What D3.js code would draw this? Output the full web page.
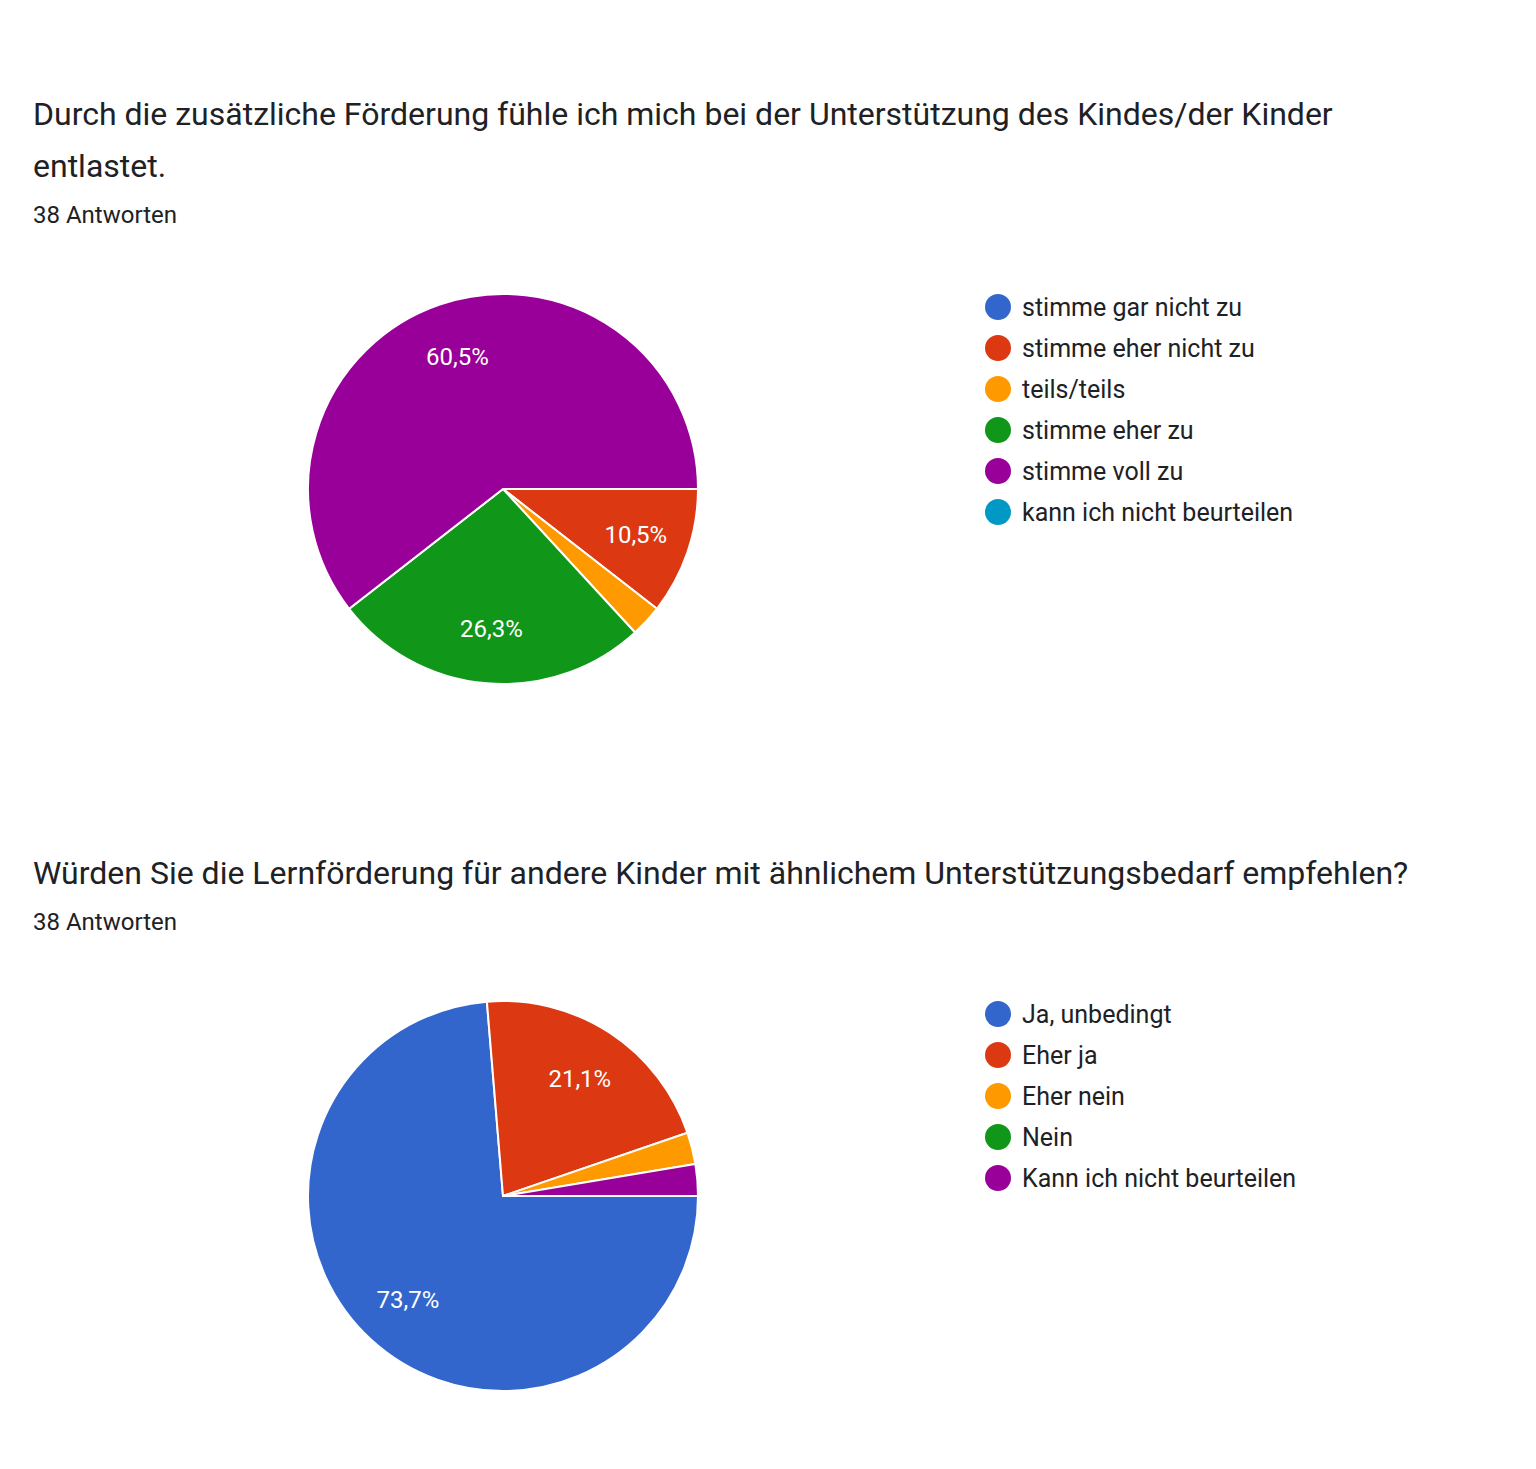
<!DOCTYPE html>
<html><head><meta charset="utf-8">
<script src="https://cdn.jsdelivr.net/npm/d3@7"></script>
<style>body{margin:0;background:#fff}text{font-family:Roboto,"Noto Sans",sans-serif}</style>
</head><body><svg id="c" width="1536" height="1469"></svg>
<script>
const colors = ["#3366cc","#dc3912","#ff9900","#109618","#990099","#0099c6"];
const title1 = ["Durch die zusätzliche Förderung fühle ich mich bei der Unterstützung des Kindes/der Kinder","entlastet."];
const cats1 = ["stimme gar nicht zu","stimme eher nicht zu","teils/teils","stimme eher zu","stimme voll zu","kann ich nicht beurteilen"];
const vals1 = [0,4,1,10,23,0];
const title2 = ["Würden Sie die Lernförderung für andere Kinder mit ähnlichem Unterstützungsbedarf empfehlen?"];
const cats2 = ["Ja, unbedingt","Eher ja","Eher nein","Nein","Kann ich nicht beurteilen"];
const vals2 = [28,8,1,0,1];
const countLabel = "38 Antworten";

const svg = d3.select("#c");
function chart(titles, cats, vals, top, cy){
  titles.forEach((t,i)=>svg.append("text").attr("x",33).attr("y",top+i*52).attr("font-size",32).attr("fill","#202124").text(t));
  svg.append("text").attr("x",33).attr("y",top+(titles.length-1)*52+46).attr("font-size",24).attr("fill","#202124").text(countLabel);
  const total = d3.sum(vals), r = 195;
  const pie = d3.pie().sort(null).startAngle(Math.PI/2).endAngle(Math.PI/2+2*Math.PI);
  const arcs = pie(vals.map((v,i)=>({v,i}))).filter(d=>d.data.v>0);
  pie.value(d=>d.v);
  const arcsD = pie(vals.map((v,i)=>({v,i}))).filter(d=>d.data.v>0);
  const g = svg.append("g").attr("transform",`translate(503,${cy})`);
  const arc = d3.arc().innerRadius(0).outerRadius(r);
  g.selectAll("path").data(arcsD).join("path").attr("d",arc).attr("fill",d=>colors[d.data.i]).attr("stroke","#fff").attr("stroke-width",2);
  const la = d3.arc().innerRadius(r*0.72).outerRadius(r*0.72);
  g.selectAll("text").data(arcsD.filter(d=>d.data.v/total>0.05)).join("text")
    .attr("transform",d=>`translate(${la.centroid(d)})`).attr("text-anchor","middle").attr("dy","0.35em")
    .attr("font-size",24).attr("fill","#fff")
    .text(d=>(d.data.v/total*100).toFixed(1).replace(".",",")+"%");
  const ly = cy-182;
  cats.forEach((c,i)=>{
    svg.append("circle").attr("cx",998).attr("cy",ly+i*41).attr("r",13).attr("fill",colors[i]);
    svg.append("text").attr("x",1022).attr("y",ly+i*41).attr("dy","0.35em").attr("font-size",25).attr("fill","#202124").text(c);
  });
}
chart(title1,cats1,vals1,125,489);
chart(title2,cats2,vals2,884,1196);
</script></body></html>
